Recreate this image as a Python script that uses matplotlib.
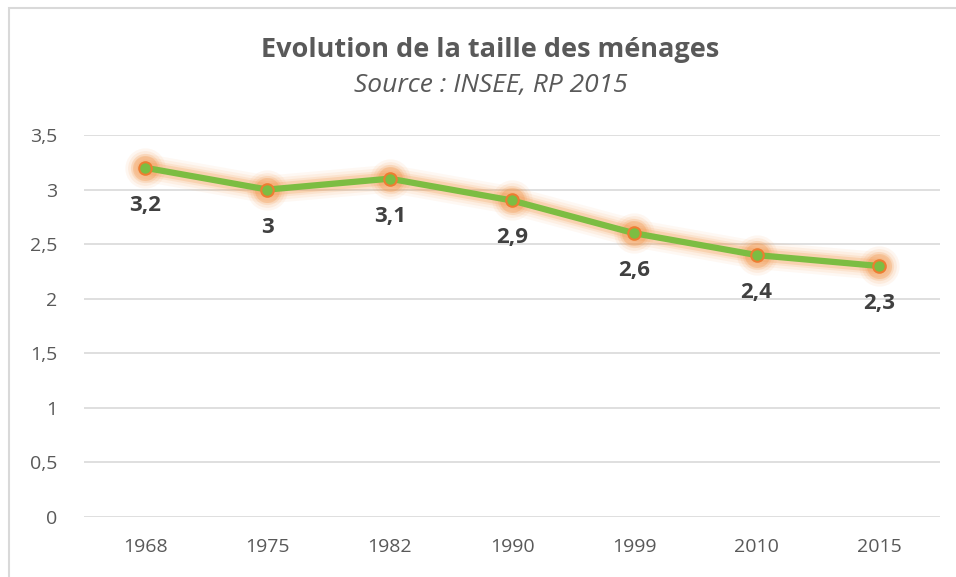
import matplotlib.pyplot as plt
from matplotlib.patches import Rectangle

annees = ['1968', '1975', '1982', '1990', '1999', '2010', '2015']
taille = [3.2, 3.0, 3.1, 2.9, 2.6, 2.4, 2.3]
etiquettes = ['3,2', '3', '3,1', '2,9', '2,6', '2,4', '2,3']
yticks = [0, 0.5, 1, 1.5, 2, 2.5, 3, 3.5]
ytick_labels = ['0', '0,5', '1', '1,5', '2', '2,5', '3', '3,5']

plt.rcParams['font.family'] = ['Open Sans', 'DejaVu Sans']

fig = plt.figure(figsize=(9.56, 5.77), dpi=100)
ax = fig.add_axes([0.0879, 0.104, 0.8954, 0.662])

# cadre du graphique
fig.patches.append(Rectangle((9/956, -0.1), 1.2, 1 - 8/577 + 0.1, transform=fig.transFigure,
                             fill=False, edgecolor='#d9d9d9', linewidth=1.5))

x = list(range(len(annees)))

# halo orange autour de la courbe
for lw, a in [(20, 0.07), (16, 0.10), (12, 0.15), (9, 0.25)]:
    ax.plot(x, taille, color='#f5a05a', linewidth=lw, alpha=a, solid_capstyle='round', zorder=2)
    ax.plot(x, taille, 'o', color='#f28c38', markersize=lw + 9, alpha=a, markeredgewidth=0, zorder=2)

ax.plot(x, taille, color='#7cbd42', linewidth=4.5, marker='o', markersize=9,
        markerfacecolor='#7cbd42', markeredgecolor='#ed7d31', markeredgewidth=1.5, zorder=3)

for xi, yi, lab in zip(x, taille, etiquettes):
    ax.annotate(lab, (xi, yi), xytext=(0, -27), textcoords='offset points',
                ha='center', va='center', fontsize=16, fontweight='bold', color='#404040')

ax.set_xlim(-0.5, len(annees) - 0.5)
ax.set_ylim(0, 3.5)
ax.set_xticks(x)
ax.set_xticklabels(annees)
ax.set_yticks(yticks)
ax.set_yticklabels(ytick_labels)
ax.tick_params(length=0, labelsize=14, labelcolor='#595959')
ax.tick_params(axis='x', pad=15)
ax.tick_params(axis='y', pad=19)
ax.grid(axis='y', color='#d9d9d9', linewidth=1.2)
ax.set_axisbelow(True)
for s in ax.spines.values():
    s.set_visible(False)

fig.text(0.513, 0.913, 'Evolution de la taille des ménages', ha='center', va='center',
         fontsize=19.5, fontweight='bold', color='#595959')
fig.text(0.513, 0.852, 'Source : INSEE, RP 2015', ha='center', va='center',
         fontsize=19, style='italic', color='#595959')

fig.savefig('out.png', dpi=100)
